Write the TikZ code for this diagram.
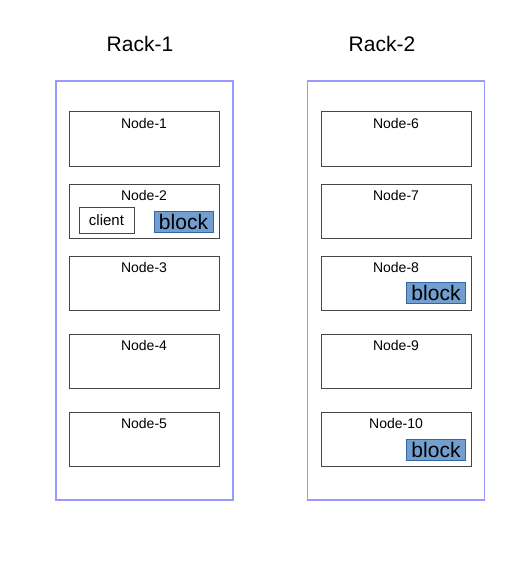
\documentclass[tikz,border=0pt]{standalone}
\usepackage{fontspec}
\setmainfont{Liberation Sans}
\usetikzlibrary{positioning}
\definecolor{rkborder}{RGB}{153,153,255}
\definecolor{ndborder}{RGB}{70,70,70}
\definecolor{blkfill}{RGB}{114,159,207}
\definecolor{blkborder}{RGB}{52,101,164}

\begin{document}
\begin{tikzpicture}[
    x=1pt, y=-1pt,
    %% ── node styles ──────────────────────────────────────────────────────────
    rack/.style={
        rectangle, draw=rkborder, line width=1.1pt,
        minimum width=177pt, minimum height=419pt, inner sep=0pt
    },
    racktitle/.style={
        font=\fontsize{21}{24}\selectfont, text=black
    },
    server/.style={
        rectangle, draw=ndborder, line width=1pt,
        minimum width=150pt, minimum height=54pt, inner sep=0pt
    },
    serverlbl/.style={
        anchor=north, font=\fontsize{14}{16}\selectfont, inner sep=0pt
    },
    blockbox/.style={
        rectangle, draw=blkborder, fill=blkfill, line width=0.6pt,
        minimum width=59pt, minimum height=21pt, inner sep=0pt,
        font=\fontsize{21}{24}\selectfont
    },
    clientbox/.style={
        rectangle, draw=ndborder, fill=white, line width=1pt,
        minimum width=55pt, minimum height=26pt, inner sep=0pt,
        font=\fontsize{15}{17}\selectfont
    },
]
\useasboundingbox (0,0) rectangle (525,567);

%% ── Racks ────────────────────────────────────────────────────────────────────
\node[rack] (rack1) at (144.5,290.5) {};
\node[rack] (rack2) at (396,290.5)   {};

\node[racktitle] (title1) at (140,44) {Rack-1};
\node[racktitle] (title2) at (382,44) {Rack-2};

%% ── Rack-1 nodes ─────────────────────────────────────────────────────────────
\node[server] (n1) at (144,139) {};
\node[server] (n2) at (144,211) {};
\node[server] (n3) at (144,283) {};
\node[server] (n4) at (144,361) {};
\node[server] (n5) at (144,439) {};

\node[serverlbl, below=7pt of n1.north] (n1lbl) {Node-1};
\node[serverlbl, below=7pt of n2.north] (n2lbl) {Node-2};
\node[serverlbl, below=7pt of n3.north] (n3lbl) {Node-3};
\node[serverlbl, below=7pt of n4.north] (n4lbl) {Node-4};
\node[serverlbl, below=7pt of n5.north] (n5lbl) {Node-5};

%% ── Rack-2 nodes ─────────────────────────────────────────────────────────────
\node[server] (n6)  at (396,139) {};
\node[server] (n7)  at (396,211) {};
\node[server] (n8)  at (396,283) {};
\node[server] (n9)  at (396,361) {};
\node[server] (n10) at (396,439) {};

\node[serverlbl, below=7pt of n6.north]  (n6lbl)  {Node-6};
\node[serverlbl, below=7pt of n7.north]  (n7lbl)  {Node-7};
\node[serverlbl, below=7pt of n8.north]  (n8lbl)  {Node-8};
\node[serverlbl, below=7pt of n9.north]  (n9lbl)  {Node-9};
\node[serverlbl, below=7pt of n10.north] (n10lbl) {Node-10};

%% ── Client and block replicas ────────────────────────────────────────────────
\node[clientbox] (client) at (106.5,220) {client};
\node[blockbox]  (blk2)   at (183.5,221.5) {block};
\node[blockbox]  (blk8)   at (436,292.5)   {block};
\node[blockbox]  (blk10)  at (436,449.5)   {block};

\end{tikzpicture}
\end{document}
